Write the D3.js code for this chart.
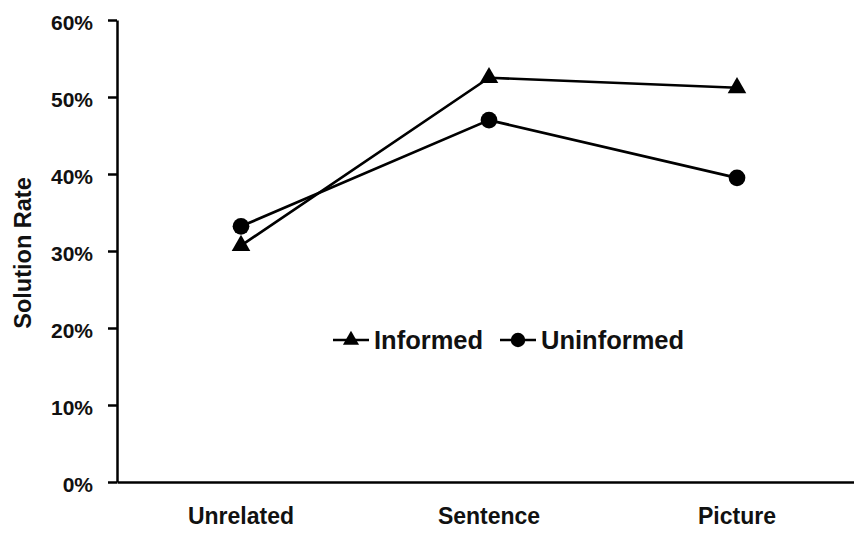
<!DOCTYPE html>
<html lang="en">
<head>
    <meta charset="UTF-8">
    <title>Solution Rate</title>
    <script src="https://d3js.org/d3.v7.min.js"></script>
    <style>
        body, html {
            margin: 0;
            background-color: #ffffff;
            font-family: 'Liberation Sans', Arial, sans-serif;
        }
        svg text { font-weight: bold; fill: #111; }
        .axis path, .axis line { stroke: #000; stroke-width: 2.5; }
    </style>
</head>
<body>
<svg id="chart"></svg>

<script>
    // data
    const categories = ["Unrelated", "Sentence", "Picture"];
    const informed = [0.307, 0.525, 0.512];
    const uninformed = [0.332, 0.470, 0.395];
    const yTicks = [0, 0.1, 0.2, 0.3, 0.4, 0.5, 0.6];

    const W = 854, H = 535;
    const plotLeft = 117, plotTop = 20, plotBottom = 482;

    const svg = d3.select("#chart")
        .attr("width", W)
        .attr("height", H);

    const x = d3.scaleBand().domain(categories).range([plotLeft, plotLeft + 744]);
    const y = d3.scaleLinear().domain([0, 0.6]).range([plotBottom, plotTop]);

    // y axis
    const yAxis = svg.append("g")
        .attr("class", "axis")
        .attr("transform", `translate(${plotLeft},0)`)
        .call(d3.axisLeft(y).tickValues(yTicks).tickFormat(d3.format(".0%"))
            .tickSize(9).tickSizeOuter(0).tickPadding(15));
    yAxis.selectAll("text")
        .attr("font-size", 21)
        .attr("font-family", "'Liberation Sans', Arial, sans-serif")
        .attr("dy", "0.45em");

    // x axis
    const xAxis = svg.append("g")
        .attr("class", "axis")
        .attr("transform", `translate(0,${plotBottom})`)
        .call(d3.axisBottom(x).tickSize(0).tickSizeOuter(0).tickPadding(26));
    xAxis.selectAll("text")
        .attr("font-size", 23)
        .attr("font-family", "'Liberation Sans', Arial, sans-serif");

    // y title
    svg.append("text")
        .attr("transform", `translate(31,253) rotate(-90)`)
        .attr("text-anchor", "middle")
        .attr("font-size", 23.5)
        .text("Solution Rate");

    const line = d3.line()
        .x((d, i) => x(categories[i]) + x.bandwidth() / 2)
        .y(d => y(d));

    const series = [
        { name: "Informed", values: informed, symbol: d3.symbolTriangle, size: 150 },
        { name: "Uninformed", values: uninformed, symbol: d3.symbolCircle, size: 220 }
    ];

    series.forEach(s => {
        svg.append("path")
            .datum(s.values)
            .attr("fill", "none")
            .attr("stroke", "#000")
            .attr("stroke-width", 2.7)
            .attr("d", line);

        svg.selectAll(null)
            .data(s.values)
            .enter().append("path")
            .attr("transform", (d, i) => `translate(${x(categories[i]) + x.bandwidth() / 2},${y(d)})`)
            .attr("d", d3.symbol().type(s.symbol).size(s.size))
            .attr("fill", "#000");
    });

    // legend
    const legendX = [333, 500];
    const legend = svg.selectAll(".legend")
        .data(series)
        .enter().append("g")
        .attr("class", "legend")
        .attr("transform", (d, i) => `translate(${legendX[i]},340)`);

    legend.append("line")
        .attr("x1", 0).attr("x2", 36)
        .attr("stroke", "#000").attr("stroke-width", 2.5);
    legend.append("path")
        .attr("transform", "translate(18,0)")
        .attr("d", d => d3.symbol().type(d.symbol).size(d.size * 0.75)())
        .attr("fill", "#000");
    legend.append("text")
        .attr("x", 41)
        .attr("dy", "0.36em")
        .attr("font-size", 25.5)
        .text(d => d.name);
</script>
</body>
</html>
